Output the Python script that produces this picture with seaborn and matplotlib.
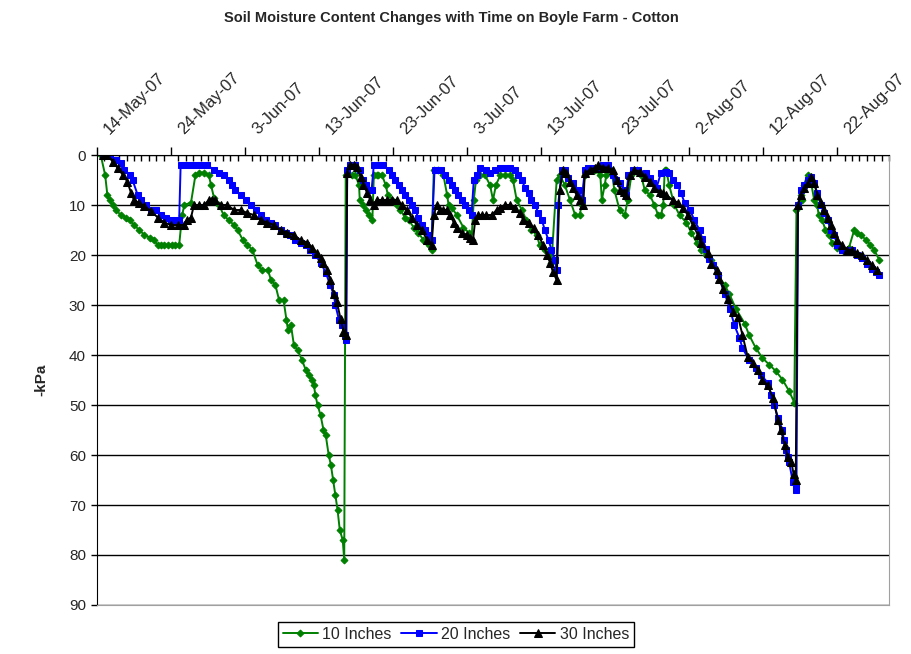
import matplotlib
matplotlib.use("Agg")
import matplotlib.pyplot as plt
import matplotlib.transforms as mtrans
import seaborn as sns
import pandas as pd

START = pd.Timestamp("2007-05-14 12:00")

# 10 inch sensor: days after first reading, -kPa
days_10 = [0.0, 0.6, 0.9, 1.2, 1.6, 2.1, 2.7, 3.4, 3.9, 4.5, 5.2, 5.9, 6.6, 7.2, 7.7, 8.1, 8.6, 9.1, 9.6, 10.1,
           10.6, 11.0, 11.3, 12.2, 12.8, 13.3, 13.9, 14.6, 14.9, 15.3, 16.0, 16.6, 17.3, 18.0, 18.5, 19.2, 19.8,
           20.5, 21.2, 21.8, 22.6, 23.0, 23.6, 24.1, 24.7, 25.1, 25.3, 25.7, 26.1, 26.6, 27.2, 27.7, 28.1, 28.6,
           28.8, 29.0, 29.3, 29.7, 30.1, 30.4, 30.8, 31.1, 31.4, 31.7, 32.0, 32.3, 32.7, 32.9, 33.1, 34.0, 34.4,
           34.9, 35.0, 35.5, 35.8, 36.2, 36.7, 36.9, 37.3, 37.5, 38.0, 38.5, 38.8, 39.4, 40.0, 40.5, 41.1, 41.6,
           42.3, 42.9, 43.6, 44.3, 44.7, 45.0, 45.6, 46.3, 46.8, 47.0, 47.4, 48.1, 49.0, 49.7, 50.1, 50.4, 50.7,
           51.3, 51.9, 52.6, 53.0, 53.4, 54.0, 54.6, 55.3, 55.7, 56.2, 56.9, 57.5, 58.2, 58.9, 59.3, 60.0, 60.5,
           60.9, 61.6, 62.0, 62.7, 63.4, 64.1, 64.7, 65.0, 65.4, 66.1, 66.8, 67.5, 67.7, 68.1, 68.3, 69.0, 69.4,
           70.1, 70.8, 71.2, 71.7, 72.4, 73.0, 73.5, 74.2, 74.8, 75.3, 75.7, 76.0, 76.2, 76.4, 76.8, 77.5, 78.2,
           79.1, 79.8, 80.5, 81.1, 81.8, 82.5, 83.2, 83.4, 84.3, 84.9, 85.8, 87.0, 87.6, 88.5, 89.4, 90.3, 91.2,
           92.1, 93.0, 93.7, 94.0, 94.6, 94.8, 95.0, 95.5, 95.9, 96.4, 96.8, 97.0, 97.5, 97.9, 98.4, 98.8, 99.5,
           100.2, 101.1, 101.8, 102.2, 102.7, 103.4, 104.0, 104.5, 105.2]
kpa_10 = [0, 4, 8, 9, 10, 11, 12, 12.5, 13, 14, 15, 16, 16.5, 17, 18, 18, 18, 18, 18, 18,
          18, 12, 10, 9.5, 4, 3.5, 3.5, 4, 6, 8.5, 10, 12, 13, 14, 15, 17, 18,
          19, 22, 23, 23, 25, 26, 29, 29, 33, 35, 34, 38, 39, 41, 43, 44, 45,
          46, 48, 50, 52, 55, 56, 60, 62, 65, 68, 71, 75, 77, 81, 4, 4, 4,
          6, 9, 10, 11, 12, 13, 4, 4, 4, 4, 6, 8, 9, 10, 11, 12.5, 13,
          14.5, 15.5, 17, 18, 19, 3, 3, 4, 8, 10, 10.5, 12, 14.5, 15.5, 17, 9, 5,
          4, 4, 6, 9, 6, 4, 4, 4, 5, 9, 11, 13, 15, 16, 18, 19, 20,
          21.5, 5, 4, 6, 9, 12, 12, 10, 4, 3, 3, 4, 9, 6, 4, 3, 7,
          11, 12, 9, 4, 3, 4, 7, 8, 10, 12, 12, 10, 3, 3, 6, 10, 12,
          13.5, 15.5, 17.5, 19, 20, 21, 23.5, 24, 26, 27.7, 30.7, 33.7, 36, 38.6, 40.6, 41.9, 43.2,
          44.9, 47.2, 49.5, 11, 8, 9, 6, 4, 5, 9, 10, 12, 13, 15, 16, 17.5, 18.5,
          19, 18.5, 15, 15.5, 16, 17, 18, 19, 21]

# 20 inch sensor
days_20 = [0.3, 1.2, 2.1, 2.7, 3.2, 3.9, 4.3, 5.0, 5.4, 6.1, 6.8, 7.5, 8.1, 8.8, 9.5, 10.2, 10.6, 10.8, 11.5,
           12.2, 12.9, 13.6, 14.4, 15.3, 16.0, 16.6, 17.3, 17.7, 18.2, 18.9, 19.6, 20.3, 21.0, 21.6, 22.3, 23.0,
           23.6, 24.3, 25.0, 25.6, 26.3, 27.0, 27.7, 28.3, 29.0, 29.7, 30.4, 31.0, 31.5, 31.7, 32.2, 32.6, 33.0,
           33.2, 33.3, 33.7, 34.4, 35.0, 35.4, 35.8, 36.2, 36.6, 36.9, 37.5, 38.2, 38.9, 39.4, 39.8, 40.3, 40.7,
           41.1, 41.6, 42.0, 42.5, 42.9, 43.4, 43.8, 44.3, 44.7, 45.1, 45.6, 46.0, 46.5, 47.0, 47.4, 47.9, 48.3,
           48.8, 49.2, 49.7, 50.1, 50.4, 50.8, 51.3, 52.0, 52.6, 53.3, 54.0, 54.6, 55.3, 56.0, 56.4, 56.9, 57.3,
           57.8, 58.2, 58.7, 59.1, 59.6, 60.0, 60.5, 60.9, 61.4, 61.6, 61.8, 62.3, 62.7, 63.1, 63.8, 64.5, 65.0,
           65.4, 65.8, 66.5, 67.2, 67.9, 68.5, 69.2, 69.6, 70.1, 70.8, 71.0, 71.3, 71.9, 72.6, 73.7, 74.2, 74.6,
           75.1, 75.7, 76.4, 76.8, 77.3, 77.9, 78.4, 78.9, 79.6, 80.2, 80.9, 81.3, 81.8, 82.2, 82.7, 83.4, 84.3,
           85.0, 85.6, 86.3, 86.7, 87.6, 88.5, 89.2, 90.1, 90.6, 91.0, 91.5, 92.1, 92.3, 92.6, 92.8, 93.0, 93.5,
           93.9, 94.0, 94.2, 94.6, 95.0, 95.5, 95.9, 96.4, 96.8, 97.3, 97.7, 98.2, 98.6, 99.1, 99.5, 100.2, 100.9,
           101.5, 102.2, 102.8, 103.5, 104.2, 104.8, 105.2]
kpa_20 = [0, 0, 1, 1.5, 3, 4, 5, 8, 9, 10, 11, 11, 12, 12.5, 13, 13, 13, 2, 2,
          2, 2, 2, 2, 3, 3.6, 4, 5, 6, 7, 8, 9, 10, 11, 12, 13, 13.5,
          14, 15, 15.5, 16, 17, 17.5, 18, 19, 20, 21.5, 23.5, 26, 28, 30, 33, 34, 36,
          37, 3, 2, 2, 3, 5, 6, 7, 7, 2, 2, 2, 3, 4, 5, 6, 7,
          8, 9, 10, 11, 12.5, 14, 15, 16, 17, 3, 3, 3, 4, 5, 6, 7, 8,
          9, 10, 11, 12, 5, 4, 2.5, 3, 3.5, 3, 2.5, 2.5, 2.5, 3, 4, 5, 6.5,
          7.5, 9, 10, 11.5, 13, 15, 17, 19, 21, 23, 10, 3, 3, 4.5, 5.5, 7, 9,
          3, 2.5, 2.5, 2.5, 2, 2, 4, 5, 5.5, 7, 8, 4, 3, 3, 3.5, 4.5, 5.5,
          6.5, 3.5, 3.3, 3.6, 5, 6, 7.6, 9.6, 11, 13, 15, 16.8, 18.8, 20.8, 22, 24, 27.7,
          30.7, 34, 36.6, 38.6, 41, 42.6, 44, 45.5, 48, 50, 52.5, 55, 57, 59, 60.4, 61.4, 65.3,
          66, 67, 10, 7, 6, 5, 4.3, 5.6, 7.6, 10, 11.6, 13, 15, 16, 18, 19, 19,
          19, 20, 20.5, 21.8, 22.8, 23.4, 24]

# 30 inch sensor
days_30 = [0.3, 0.9, 1.6, 2.3, 3.0, 3.6, 4.1, 4.5, 5.2, 5.9, 6.8, 7.7, 8.6, 9.5, 10.4, 11.3, 11.7, 12.2, 12.6,
           13.3, 14.0, 14.6, 15.1, 15.5, 16.2, 17.1, 18.0, 18.9, 19.8, 20.7, 21.6, 22.5, 23.4, 24.3, 25.2, 26.1,
           27.0, 27.9, 28.6, 29.2, 29.7, 30.1, 30.6, 31.0, 31.5, 31.9, 32.4, 32.8, 33.1, 33.3, 33.7, 34.2, 34.6,
           35.1, 35.5, 36.0, 36.4, 36.9, 37.3, 38.0, 38.7, 39.3, 40.0, 40.7, 41.4, 42.0, 42.7, 43.4, 44.1, 44.7,
           45.0, 45.4, 45.9, 46.3, 46.8, 47.2, 47.7, 48.1, 48.8, 49.5, 49.9, 50.3, 50.6, 51.0, 51.5, 52.1, 52.8,
           53.5, 53.9, 54.6, 55.3, 56.0, 56.6, 57.1, 57.8, 58.5, 59.1, 59.8, 60.3, 60.7, 61.1, 61.6, 62.0, 62.5,
           62.9, 63.4, 63.8, 64.3, 64.7, 65.2, 65.4, 66.1, 66.8, 67.2, 67.9, 68.5, 69.2, 69.7, 70.2, 70.7, 71.0,
           71.5, 72.1, 72.8, 73.5, 74.2, 74.8, 75.5, 76.0, 76.4, 77.3, 78.0, 78.7, 79.3, 80.0, 80.7, 81.1, 82.0,
           82.5, 83.2, 83.6, 84.1, 84.7, 85.4, 86.1, 86.7, 87.4, 88.1, 88.8, 89.4, 90.1, 90.8, 91.5, 91.9, 92.4,
           92.8, 93.3, 93.6, 93.9, 94.2, 94.6, 95.0, 95.5, 95.9, 96.4, 96.8, 97.3, 97.7, 98.2, 98.6, 99.1, 99.5,
           100.2, 100.8, 101.5, 102.2, 102.9, 103.5, 104.2, 104.9]
kpa_30 = [0, 0, 1.3, 2.6, 4, 5.3, 7.6, 9, 9.6, 10.2, 11.2, 12.5, 13.5, 14, 14, 14, 13, 12.5, 10,
          10, 10, 9, 9, 9, 10, 10, 11, 11, 11.6, 12, 13, 13.5, 14, 15, 15.5, 16,
          17, 17.5, 18.5, 19.5, 20.5, 21.5, 23, 25, 27.7, 29.4, 32.7, 35.3, 36, 3.6, 2, 2, 2.3,
          4.3, 5.9, 7.6, 8.9, 10, 9, 9, 9, 9, 9, 10, 11, 12.5, 14, 15, 17, 18,
          12, 10, 11, 11, 11, 12, 13.5, 14.5, 15.5, 16, 16.5, 17, 13, 12, 12, 12, 12,
          11, 10.6, 10, 10, 10.6, 11.6, 13, 13.5, 14.5, 16, 18, 20, 21.5, 23.4, 25, 7, 3,
          3.6, 5.3, 6.6, 8, 9, 10, 3.6, 3, 2.5, 2, 2.5, 2.5, 3, 5, 7, 7.3, 8,
          4, 3, 3.3, 4.3, 5.3, 6.6, 7.3, 7.6, 8, 9, 9.6, 10.6, 12, 14, 16, 17.5, 19.5,
          21.8, 23, 24.8, 26.7, 28.7, 31.3, 32.3, 36, 40.3, 41.6, 43, 45, 46, 48.5, 53, 55, 58,
          60.4, 61.4, 63.7, 65, 10, 8, 6.6, 5.6, 4.3, 5.6, 8, 9.6, 11, 12.5, 14, 15.5, 17,
          18, 19, 19, 19.5, 20, 21, 22, 23]

TICK_DATES = pd.date_range("2007-05-14", periods=11, freq="10D")
TICK_LABELS = [f"{d.day}-{d.strftime('%b-%y')}" for d in TICK_DATES]

SERIES = [
    ("10 Inches", days_10, kpa_10, "#008000", "D", 3.5),
    ("20 Inches", days_20, kpa_20, "#0000ff", "s", 5),
    ("30 Inches", days_30, kpa_30, "#000000", "^", 5.5),
]

sns.set_style("white")
plt.rcParams["font.family"] = ["Liberation Sans", "DejaVu Sans"]

fig = plt.figure(figsize=(9.12, 6.54), dpi=100)
ax = fig.add_axes([97 / 912, 49 / 654, 792 / 912, 450 / 654])

for name, days, kpa, col, mk, ms in SERIES:
    df = pd.DataFrame({"fecha": START + pd.to_timedelta(days, unit="D"), "kpa": kpa})
    sns.lineplot(data=df, x="fecha", y="kpa", ax=ax, color=col, marker=mk, markersize=ms,
                 markeredgecolor=col, linewidth=1.4, label=name, estimator=None, sort=False)

ax.set_ylim(90, 0)
ax.set_yticks(range(0, 91, 10))
ax.set_xlim(pd.Timestamp("2007-05-14"), pd.Timestamp("2007-08-29"))
ax.xaxis.tick_top()
ax.set_xticks(TICK_DATES)
ax.set_xticklabels(TICK_LABELS, rotation=45, ha="left", va="bottom", rotation_mode="anchor", fontsize=12)
ax.set_xticks(pd.date_range("2007-05-14", "2007-08-29", freq="D"), minor=True)
ax.tick_params(axis="x", which="major", direction="out", length=6, width=1, color="black", pad=7)
ax.tick_params(axis="x", which="minor", direction="in", length=4, width=1, color="black", top=True)
ax.tick_params(axis="y", which="major", direction="out", length=4, width=1, color="black", left=True,
               labelsize=11, pad=4)
ax.set_xlabel("")
ax.set_ylabel("-kPa", fontsize=11, fontweight="bold")
ax.yaxis.set_label_coords(-0.062, 0.5)
ax.grid(False)
ax.yaxis.grid(True, color="black", linewidth=1)

ax.spines["top"].set_color("black")
ax.spines["left"].set_color("black")
ax.spines["right"].set_color("#a0a0a0")
ax.spines["bottom"].set_color("#a0a0a0")

# the slanted date labels start a little right of their ticks
shift = mtrans.ScaledTranslation(15 / 100, 0, fig.dpi_scale_trans)
for lab in ax.get_xticklabels():
    lab.set_transform(lab.get_transform() + shift)

handles, labels = ax.get_legend_handles_labels()
ax.get_legend().remove()
fig.legend(handles, labels, loc="upper center", bbox_to_anchor=(0.5, 0.049), ncol=3, frameon=True,
           fancybox=False, edgecolor="black", framealpha=1, fontsize=11.5, borderpad=0.3,
           columnspacing=0.6, handlelength=2.2, handletextpad=0.3, borderaxespad=0)

fig.text(0.4945, 0.972, "Soil Moisture Content Changes with Time on Boyle Farm - Cotton",
         ha="center", va="center", fontsize=10.5, fontweight="bold")

fig.savefig("out.png", dpi=100)
